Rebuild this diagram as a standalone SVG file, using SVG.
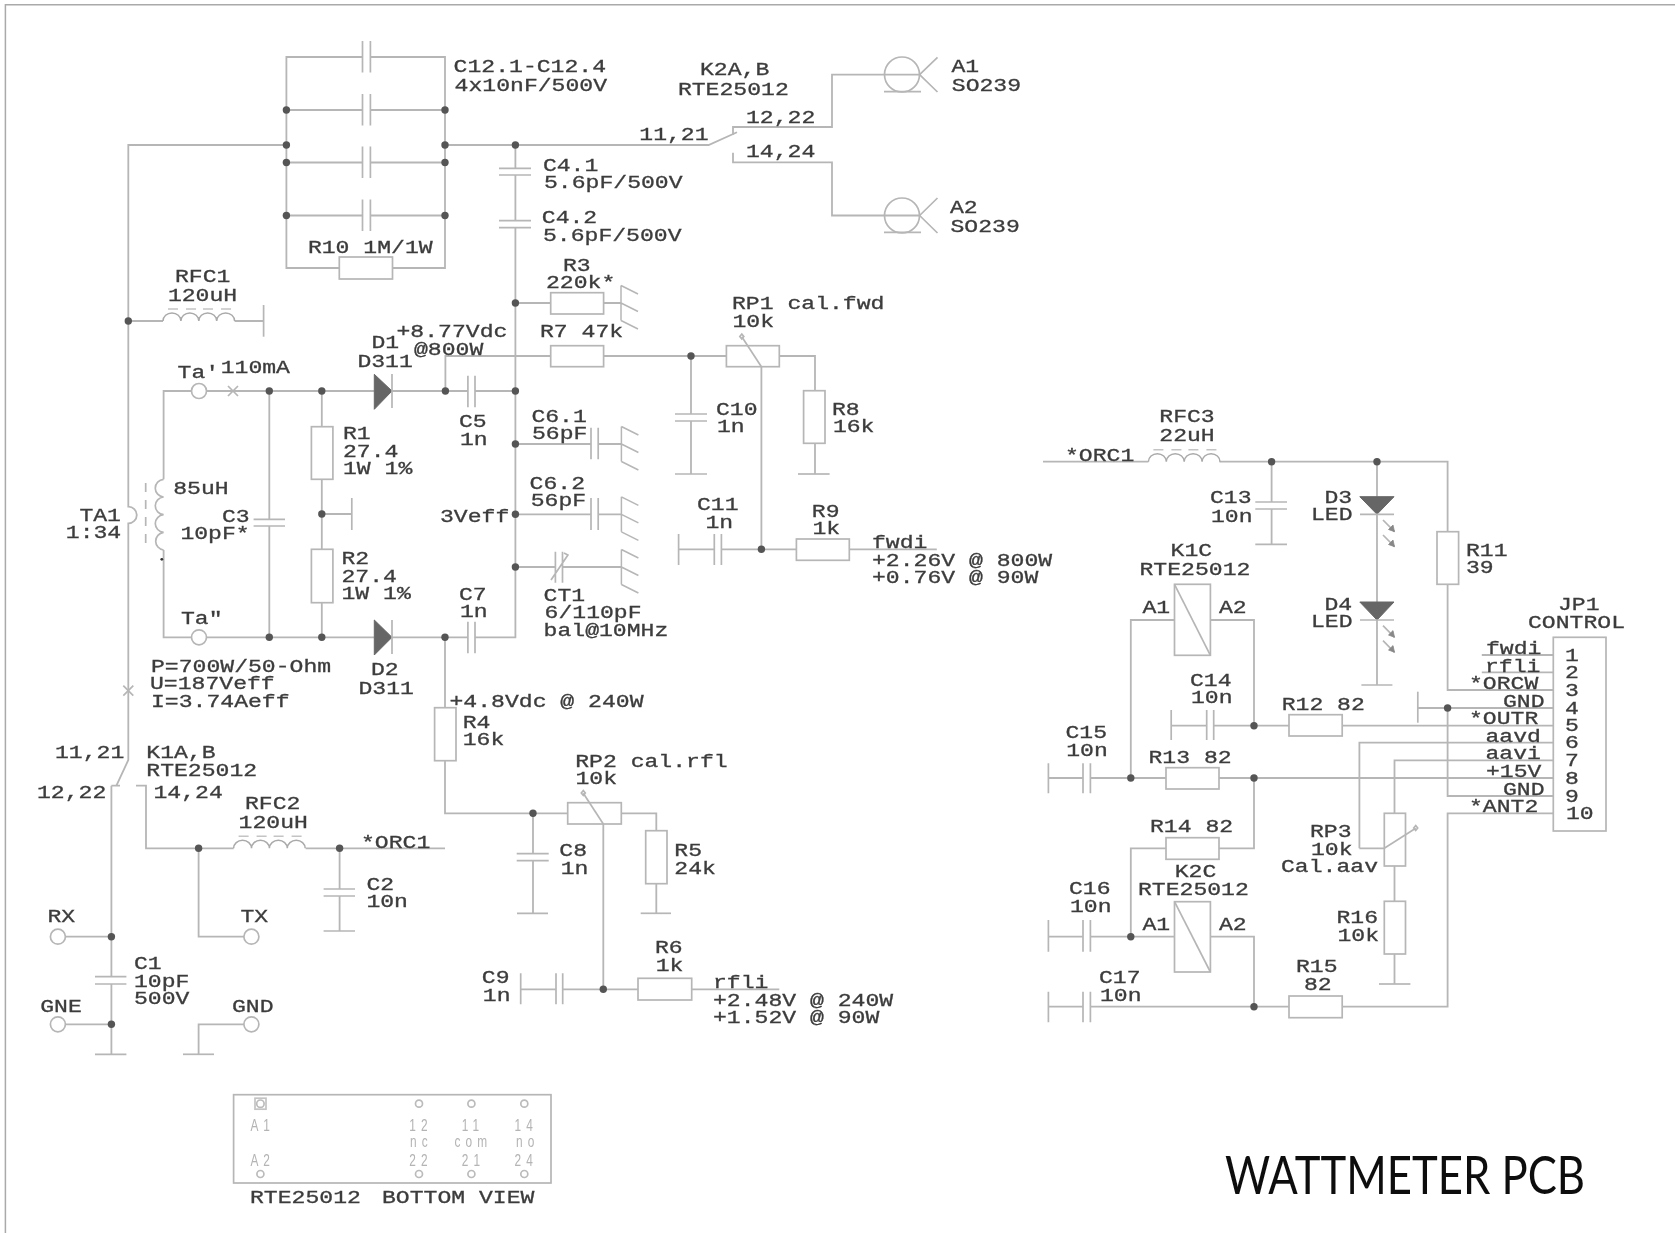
<svg xmlns="http://www.w3.org/2000/svg" xmlns:xlink="http://www.w3.org/1999/xlink" width="1675" height="1233" viewBox="0 0 1675 1233">
<style>
.t{font-family:"Liberation Mono","Courier New",monospace;font-size:17.5px;fill:#3c3c3c;stroke:#3c3c3c;stroke-width:.3;white-space:pre;transform-box:fill-box;transform-origin:0 50%;transform:scaleX(1.32)}
.w,.w *{fill:none;stroke:#b6b6b6;stroke-width:1.8}
.s path,.s rect,.s circle,.s line{fill:none;stroke:#b6b6b6;stroke-width:1.7}
.s .f{fill:#666;stroke:#666;stroke-width:1}
.s .h{fill:#888;stroke:#888;stroke-width:.8}
.s .k{fill:#333;stroke:none}
.s .d{stroke-dasharray:9 8}
.n{fill:#555}
.p{font-family:"Liberation Sans",Arial,sans-serif;font-size:16.5px;fill:#b4b4b4;letter-spacing:7px;transform-box:fill-box;transform-origin:0 50%;transform:scaleX(.72)}
</style>
<defs>
<filter id="soft" filterUnits="userSpaceOnUse" x="0" y="0" width="1675" height="1233"><feGaussianBlur stdDeviation="0.45"/></filter>
<g id="hatch"><path d="M0 -17.5V17.5M0 -17.5L17 -9M0 0L17 8.5M0 17.5L17 26" fill="none" stroke="#b6b6b6" stroke-width="1.5"/></g>
<path id="coil" d="M0 0a8.9 8 0 0 1 17.9 0a8.9 8 0 0 1 17.9 0a8.9 8 0 0 1 17.9 0a8.9 8 0 0 1 17.9 0" fill="none" stroke="#aaa" stroke-width="1.5"/>
<path id="dash" d="M5 -12h10M23 -12h10M40 -12h10M58 -12h10" fill="none" stroke="#c4c4c4" stroke-width="1.5"/>
</defs>
<rect width="1675" height="1233" fill="#fff"/>
<g filter="url(#soft)">
<path d="M5.4 1233V4.7H1675" fill="none" stroke="#aaa" stroke-width="1.5"/>
<g id="connectors" class="w">
<path d="M286.4 145H128.3V506.7a8.5 8.3 0 0 1 0 16.6V760L116.4 785.7M128.3 321H163M234.6 321H263.6"/>
<path d="M362.5 57H286.4V268H339.3M392.5 268H445V57H370.4M286.4 110H362.5M370.4 110H445M286.4 162.5H362.5M370.4 162.5H445M286.4 215.5H362.5M370.4 215.5H445"/>
<path d="M445 145H708.6L737 132.3M733 135V127H832V74.7H919.6M733 152.7V162.3H832V215.5H919.6"/>
<path d="M515.4 145V168.3M515.4 175V220.7M515.4 227.7V637.3H475M515.4 303H550.7M603.6 303H621"/>
<path d="M445.4 391V356H550.7M603.6 356H726.4M779.3 356H815V390.7M815 443.3V474M691 356V414M691 421V474M761.4 366.7V549.3M678.6 549.3H714.3M721.4 549.3H796.4M849.3 549.3H936.8"/>
<path d="M163.6 479.3V391H191.5M206.5 391H374M392 391H467.9M475 391H515.4M163.6 550V637.3H191.5M206.5 637.3H374M392 637.3H467.9"/>
<path d="M269.3 391V519.3M269.3 526V637.3M321.8 391V426.7M321.8 479.3V549.3M321.8 602.7V637.3M321.8 514H351.8"/>
<path d="M515.4 444H591M598.2 444H621.4M515.4 514.3H591M598.2 514.3H621.4M515.4 567H555.4M562.5 567H621.4"/>
<path d="M445 637.3V707.7M445 760.7V813.3H567.7M621.3 813.3H656.3V830.7M656.3 883.7V913.3M533 813.3V853.7M533 860.7V913.3M603.3 824V989.3M520.7 989.3H556M562.7 989.3H638M691.7 989.3H779.3"/>
<path d="M111.4 785.7V976.7M111.4 984V1054.3M111.4 785.7H120M136 785.7H146V848.3H233.6M305.7 848.3H445M198.6 848.3V936.7H244M339.6 848.3V889M339.6 896V931M65.4 936.7H111.4M65.4 1024.3H111.4M244 1024.3H198.6V1054.3"/>
<path d="M1043 461.7H1148.4M1219.4 461.7H1447.6V531.7M1447.6 584.3V690H1553.3M1271.6 461.7V502M1271.6 509V544.3M1377 461.7V496.7M1377 514.3V602M1377 620V685"/>
<path d="M1174.5 620H1130.8V778M1210.4 620H1254V725.7M1171.2 725.7H1206.7M1213.7 725.7H1289M1342.2 725.7H1553.3M1048.4 778H1083M1090.4 778H1166M1219 778H1553.3M1254 778V848.3H1219M1166 848.3H1130.8V936.7M1048.4 936.7H1083M1090.4 936.7H1174.5M1210.4 936.7H1254V1006.7M1048.4 1006.7H1083M1090.4 1006.7H1289M1342.2 1006.7H1447.6V813.3H1553.3"/>
<path d="M1481.8 655H1553.3M1481.8 672.3H1553.3M1417.8 708H1553.3M1447.6 708V796H1553.3M1359.4 848.3V742.7H1553.3M1359.4 848.3H1384.3M1394.5 813.3V760.3H1553.3M1394.5 866V901.3M1394.5 954V984"/>
</g>
<g id="junctions">
<circle class="n" r="3.7" cx="286.4" cy="110"/><circle class="n" r="3.7" cx="445" cy="110"/><circle class="n" r="3.7" cx="286.4" cy="145"/><circle class="n" r="3.7" cx="445" cy="145"/><circle class="n" r="3.7" cx="286.4" cy="162.5"/><circle class="n" r="3.7" cx="445" cy="162.5"/><circle class="n" r="3.7" cx="286.4" cy="215.5"/><circle class="n" r="3.7" cx="445" cy="215.5"/><circle class="n" r="3.7" cx="515.4" cy="145"/><circle class="n" r="3.7" cx="515.4" cy="303"/><circle class="n" r="3.7" cx="128.3" cy="321"/><circle class="n" r="3.7" cx="691" cy="356"/><circle class="n" r="3.7" cx="445.4" cy="391"/><circle class="n" r="3.7" cx="515.4" cy="391"/><circle class="n" r="3.7" cx="269.3" cy="391"/><circle class="n" r="3.7" cx="321.8" cy="391"/><circle class="n" r="3.7" cx="515.4" cy="444"/><circle class="n" r="3.7" cx="515.4" cy="514.3"/><circle class="n" r="3.7" cx="321.8" cy="514"/><circle class="n" r="3.7" cx="515.4" cy="567"/><circle class="n" r="3.7" cx="269.3" cy="637.3"/><circle class="n" r="3.7" cx="321.8" cy="637.3"/><circle class="n" r="3.7" cx="445" cy="637.3"/><circle class="n" r="3.7" cx="761.4" cy="549.3"/><circle class="n" r="3.7" cx="533" cy="813.3"/><circle class="n" r="3.7" cx="603.3" cy="989.3"/><circle class="n" r="3.7" cx="198.6" cy="848.3"/><circle class="n" r="3.7" cx="339.6" cy="848.3"/><circle class="n" r="3.7" cx="111.4" cy="936.7"/><circle class="n" r="3.7" cx="111.4" cy="1024.3"/><circle class="n" r="3.7" cx="1271.6" cy="461.7"/><circle class="n" r="3.7" cx="1377" cy="461.7"/><circle class="n" r="3.7" cx="1254" cy="725.7"/><circle class="n" r="3.7" cx="1130.8" cy="778"/><circle class="n" r="3.7" cx="1254" cy="778"/><circle class="n" r="3.7" cx="1130.8" cy="936.7"/><circle class="n" r="3.7" cx="1254" cy="1006.7"/><circle class="n" r="3.7" cx="1447.6" cy="708"/>
</g>
<g id="C12" class="s"><path d="M362.5 41V72.5M370.4 41V72.5M362.5 94V125.5M370.4 94V125.5M362.5 146.5V178M370.4 146.5V178M362.5 199.5V231M370.4 199.5V231"/><text class="t" x="453.6" y="72">C12.1-C12.4</text><text class="t" x="454.6" y="91.3">4x10nF/500V</text></g>
<g id="R10" class="s"><rect x="339.3" y="257" width="53.2" height="22"/><text class="t" x="307.9" y="253.3">R10 1M/1W</text></g>
<g id="RFC1" class="s"><use href="#coil" x="163" y="321"/><use href="#dash" x="163" y="321"/><path d="M263.6 305V336.7"/><text class="t" x="175" y="282">RFC1</text><text class="t" x="167.9" y="301">120uH</text></g>
<g id="K2" class="s"><text class="t" x="700" y="75.3">K2A,B</text><text class="t" x="677.9" y="94.7">RTE25012</text><text class="t" x="639.3" y="140">11,21</text><text class="t" x="746" y="122.7">12,22</text><text class="t" x="746" y="156.7">14,24</text></g>
<g id="A1" class="s"><circle cx="902" cy="74.5" r="17.5"/><path d="M884 91.7H921M919.6 74.7L937.5 57.3M919.6 74.7L937.5 92"/><text class="t" x="951.4" y="72">A1</text><text class="t" x="951.8" y="91.3">SO239</text></g>
<g id="A2" class="s"><circle cx="902" cy="215.5" r="17.5"/><path d="M884 232.3H921M919.6 215.5L937.5 198M919.6 215.5L937.5 233"/><text class="t" x="950" y="212.7">A2</text><text class="t" x="950.5" y="232">SO239</text></g>
<g id="C4" class="s"><path d="M499 168.3H531M499 175H531M499 220.7H531M499 227.7H531"/><text class="t" x="542.9" y="170.7">C4.1</text><text class="t" x="544" y="188.3">5.6pF/500V</text><text class="t" x="541.8" y="223.3">C4.2</text><text class="t" x="543" y="240.7">5.6pF/500V</text></g>
<g id="R3" class="s"><rect x="550.7" y="292.7" width="52.9" height="21.3"/><use href="#hatch" x="621" y="303"/><text class="t" x="563" y="270.7">R3</text><text class="t" x="546" y="288.3">220k*</text></g>
<g id="R7" class="s"><rect x="550.7" y="345.7" width="52.9" height="21"/><text class="t" x="540" y="337.3">R7 47k</text></g>
<g id="RP1" class="s"><rect x="726.4" y="345.7" width="52.9" height="21"/><path d="M741.8 336.7L761.4 366.7"/><path d="M741.8 334l2 2.5-2 2.5-2-2.5z"/><text class="t" x="732" y="309.3">RP1 cal.fwd</text><text class="t" x="732.5" y="327.3">10k</text></g>
<g id="R8" class="s"><rect x="803.6" y="390.7" width="21.4" height="52.6"/><path d="M798 474H829.6"/><text class="t" x="832" y="415">R8</text><text class="t" x="832.9" y="432.3">16k</text></g>
<g id="C10" class="s"><path d="M675 414H707M675 421H707M675 474H707"/><text class="t" x="716" y="415">C10</text><text class="t" x="717" y="432.3">1n</text></g>
<g id="C11" class="s"><path d="M678.6 534V565M714.3 534V565M721.4 534V565"/><text class="t" x="697" y="510">C11</text><text class="t" x="705.4" y="527.7">1n</text></g>
<g id="R9" class="s"><rect x="796.4" y="539" width="52.9" height="21.3"/><text class="t" x="811.8" y="516.7">R9</text><text class="t" x="812.5" y="534.3">1k</text><text class="t" x="872" y="548.3">fwdi</text><text class="t" x="872" y="565.7">+2.26V @ 800W</text><text class="t" x="872" y="583.3">+0.76V @ 90W</text></g>
<g id="Ta1" class="s"><circle cx="199" cy="391" r="7.5"/><path d="M228 386L238 396M238 386L228 396"/><text class="t" x="177.6" y="378.3">Ta'</text><text class="t" x="220.7" y="372.7">110mA</text></g>
<g id="Ta2" class="s"><circle cx="199" cy="637.3" r="7.5"/><text class="t" x="181" y="624">Ta"</text></g>
<g id="TA1" class="s"><path d="M163.6 479.3a9.3 8.9 0 0 0 0 17.7a9.3 8.9 0 0 0 0 17.7a9.3 8.9 0 0 0 0 17.7a9.3 8.9 0 0 0 0 17.6"/><path class="d" d="M145.7 483V549"/><circle class="k" cx="161.8" cy="559.3" r="1.4"/><path d="M123.3 685.7L133.3 695.7M133.3 685.7L123.3 695.7"/><text class="t" x="173.2" y="494">85uH</text><text class="t" x="79.4" y="520.7">TA1</text><text class="t" x="65.8" y="538.3">1:34</text></g>
<g id="C3" class="s"><path d="M253.6 519.3H285M253.6 526H285"/><text class="t" x="222" y="521.7">C3</text><text class="t" x="180.4" y="539.3">10pF*</text></g>
<g id="R1" class="s"><rect x="311.4" y="426.7" width="21.5" height="52.6"/><text class="t" x="343" y="439.3">R1</text><text class="t" x="343" y="456.7">27.4</text><text class="t" x="343" y="474.3">1W 1%</text></g>
<g id="R2" class="s"><rect x="311.4" y="549.3" width="21.5" height="53.4"/><path d="M351.8 498V530"/><text class="t" x="341.5" y="564.3">R2</text><text class="t" x="341.5" y="581.7">27.4</text><text class="t" x="341.5" y="599.3">1W 1%</text></g>
<g id="D1" class="s"><path class="f" d="M374.3 374.3L392 391L374.3 409.3Z"/><path d="M392 374V408"/><text class="t" x="371.5" y="348.3">D1</text><text class="t" x="357.4" y="367.3">D311</text><text class="t" x="396.5" y="337.3">+8.77Vdc</text><text class="t" x="414" y="355">@800W</text></g>
<g id="D2" class="s"><path class="f" d="M374.3 620L392 637.3L374.3 655Z"/><path d="M392 620V654"/><text class="t" x="371" y="675">D2</text><text class="t" x="358.5" y="694.3">D311</text></g>
<g id="C5" class="s"><path d="M467.9 375.7V407.3M475 375.7V407.3"/><text class="t" x="459" y="427.3">C5</text><text class="t" x="460" y="445">1n</text></g>
<g id="C7" class="s"><path d="M467.9 621.7V653.3M475 621.7V653.3"/><text class="t" x="459" y="600">C7</text><text class="t" x="460" y="617.3">1n</text></g>
<g id="C61" class="s"><path d="M591 427.7V459.3M598.2 427.7V459.3"/><use href="#hatch" x="621.4" y="444"/><text class="t" x="531.4" y="422">C6.1</text><text class="t" x="532" y="439.3">56pF</text></g>
<g id="C62" class="s"><path d="M591 498V530M598.2 498V530"/><use href="#hatch" x="621.4" y="514.3"/><text class="t" x="529.6" y="489">C6.2</text><text class="t" x="530.7" y="506">56pF</text><text class="t" x="440" y="521.7">3Veff</text></g>
<g id="CT1" class="s"><path d="M555.4 551.7V582.7M562.5 551.7V582.7M551 580L567.9 555L564 553"/><use href="#hatch" x="621.4" y="567"/><text class="t" x="543.6" y="601">CT1</text><text class="t" x="544.6" y="618.3">6/110pF</text><text class="t" x="543.6" y="636">bal@10MHz</text></g>
<g id="power" class="s"><text class="t" x="151" y="671.7">P=700W/50-Ohm</text><text class="t" x="150" y="689">U=187Veff</text><text class="t" x="151" y="706.7">I=3.74Aeff</text></g>
<g id="R4" class="s"><rect x="434.6" y="707.7" width="21.4" height="53"/><text class="t" x="449.5" y="706.7">+4.8Vdc @ 240W</text><text class="t" x="462.7" y="728.3">R4</text><text class="t" x="462.7" y="745">16k</text></g>
<g id="RP2" class="s"><rect x="567.7" y="802.7" width="53.6" height="21.3"/><path d="M583.3 793.3L603.3 824"/><path d="M583.3 790.5l2 2.5-2 2.5-2-2.5z"/><text class="t" x="575.2" y="766.7">RP2 cal.rfl</text><text class="t" x="575.5" y="784.3">10k</text></g>
<g id="R5" class="s"><rect x="645.7" y="830.7" width="21.3" height="53"/><path d="M640.7 913.3H671"/><text class="t" x="674.3" y="856">R5</text><text class="t" x="674.3" y="874">24k</text></g>
<g id="C8" class="s"><path d="M516.7 853.7H548.7M516.7 860.7H548.7M517 913.3H548"/><text class="t" x="559.3" y="856">C8</text><text class="t" x="560.7" y="874">1n</text></g>
<g id="C9" class="s"><path d="M520.7 973.3V1004.3M556 973.3V1004.3M562.7 973.3V1004.3"/><text class="t" x="481.8" y="983.3">C9</text><text class="t" x="482.8" y="1001">1n</text></g>
<g id="R6" class="s"><rect x="638" y="978.3" width="53.7" height="21.7"/><text class="t" x="655" y="952.7">R6</text><text class="t" x="655.7" y="970.7">1k</text><text class="t" x="713" y="988.3">rfli</text><text class="t" x="713" y="1005.7">+2.48V @ 240W</text><text class="t" x="713" y="1023.3">+1.52V @ 90W</text></g>
<g id="K1AB" class="s"><text class="t" x="55" y="757.7">11,21</text><text class="t" x="146.3" y="757.7">K1A,B</text><text class="t" x="146.3" y="775.7">RTE25012</text><text class="t" x="37" y="798.3">12,22</text><text class="t" x="153.5" y="798.3">14,24</text></g>
<g id="RFC2" class="s"><use href="#coil" x="233.6" y="848.3"/><use href="#dash" x="233.6" y="848.3"/><text class="t" x="245" y="808.7">RFC2</text><text class="t" x="238.6" y="828">120uH</text><text class="t" x="361" y="847.7">*ORC1</text></g>
<g id="C2" class="s"><path d="M323.6 889H355M323.6 896H355M323.6 931H355"/><text class="t" x="366.4" y="890">C2</text><text class="t" x="366.4" y="907.3">10n</text></g>
<g id="RX" class="s"><circle cx="57.9" cy="936.7" r="7.5"/><text class="t" x="47.4" y="921.7">RX</text></g>
<g id="TX" class="s"><circle cx="251.4" cy="936.7" r="7.5"/><text class="t" x="240.4" y="921.7">TX</text></g>
<g id="GNE" class="s"><circle cx="57.9" cy="1024.3" r="7.5"/><text class="t" x="40.2" y="1011.7">GNE</text></g>
<g id="GND" class="s"><circle cx="251.4" cy="1024.3" r="7.5"/><path d="M183 1054.3H214"/><text class="t" x="232" y="1011.7">GND</text></g>
<g id="C1" class="s"><path d="M95 976.7H126.4M95 984H126.4M95 1054.3H126.4"/><text class="t" x="134" y="969.3">C1</text><text class="t" x="134" y="986.7">10pF</text><text class="t" x="134" y="1004.3">500V</text></g>
<g id="relay" class="s">
<rect x="233.6" y="1094.7" width="317.4" height="88.3"/>
<rect x="255" y="1098.2" width="11" height="11" style="stroke:#c4c4c4"/>
<circle cx="260.4" cy="1103.7" r="3.7" style="stroke:#bbb"/><circle cx="419" cy="1103.7" r="3.5" style="stroke:#bbb"/><circle cx="471.4" cy="1103.7" r="3.5" style="stroke:#bbb"/><circle cx="524.3" cy="1103.7" r="3.5" style="stroke:#bbb"/>
<circle cx="260.4" cy="1174" r="3.5" style="stroke:#bbb"/><circle cx="419" cy="1174" r="3.5" style="stroke:#bbb"/><circle cx="471.4" cy="1174" r="3.5" style="stroke:#bbb"/><circle cx="524.3" cy="1174" r="3.5" style="stroke:#bbb"/>
<text class="p" x="250.4" y="1130.7">A1</text><text class="p" x="250.4" y="1166">A2</text>
<text class="p" x="409.3" y="1130.7">12</text><text class="p" x="461.8" y="1130.7">11</text><text class="p" x="514.6" y="1130.7">14</text>
<text class="p" x="410" y="1146.7">nc</text><text class="p" x="454.6" y="1146.7">com</text><text class="p" x="516" y="1146.7">no</text>
<text class="p" x="409.3" y="1166">22</text><text class="p" x="461.8" y="1166">21</text><text class="p" x="514.6" y="1166">24</text>
<text class="t" x="250" y="1202.7">RTE25012  <tspan dx="-5">BOTTOM</tspan> VIEW</text>
</g>
<g id="RFC3" class="s"><use href="#coil" x="1148.4" y="461.7"/><use href="#dash" x="1148.4" y="461.7"/><text class="t" x="1159.3" y="421.7">RFC3</text><text class="t" x="1159.3" y="441">22uH</text><text class="t" x="1065" y="460.7">*ORC1</text></g>
<g id="C13" class="s"><path d="M1255.3 502H1287M1255.3 509H1287M1255.3 544.3H1287"/><text class="t" x="1210" y="502.7">C13</text><text class="t" x="1211" y="521.7">10n</text></g>
<g id="D3" class="s"><path class="f" d="M1359.8 496.7H1394L1377 514.3Z"/><path d="M1360 514.3H1394M1383 520L1394.5 531.7M1383 535L1394.5 546.7"/><path class="h" d="M1394.5 531.7L1393 525L1388.5 529.5ZM1394.5 546.7L1393 540L1388.5 544.5Z"/><text class="t" x="1324.5" y="502.7">D3</text><text class="t" x="1311" y="520.3">LED</text></g>
<g id="D4" class="s"><path class="f" d="M1359.8 602H1394L1377 620Z"/><path d="M1360 620H1394M1383 625.7L1394.5 637.3M1383 640.7L1394.5 652.3M1361.4 685H1392.4"/><path class="h" d="M1394.5 637.3L1393 630.6L1388.5 635ZM1394.5 652.3L1393 645.6L1388.5 650Z"/><text class="t" x="1324.5" y="610">D4</text><text class="t" x="1311" y="627.3">LED</text></g>
<g id="R11" class="s"><rect x="1437" y="531.7" width="21.6" height="52.6"/><text class="t" x="1466" y="555.7">R11</text><text class="t" x="1466" y="573.3">39</text></g>
<g id="K1C" class="s"><rect x="1174.5" y="584.3" width="35.9" height="71"/><path d="M1174.5 584.3L1210.4 655.3"/><text class="t" x="1170.6" y="555.7">K1C</text><text class="t" x="1139.5" y="575">RTE25012</text><text class="t" x="1142.5" y="613.3">A1</text><text class="t" x="1219" y="613.3">A2</text></g>
<g id="C14" class="s"><path d="M1171.2 710V740M1206.7 710V740M1213.7 710V740"/><text class="t" x="1190" y="685.7">C14</text><text class="t" x="1191" y="703.3">10n</text></g>
<g id="R12" class="s"><rect x="1289" y="714.7" width="53.2" height="21.3"/><text class="t" x="1281.7" y="710">R12 82</text></g>
<g id="C15" class="s"><path d="M1048.4 763.3V793.3M1083 763.3V793.3M1090.4 763.3V793.3"/><text class="t" x="1065.5" y="738.3">C15</text><text class="t" x="1066.2" y="756">10n</text></g>
<g id="R13" class="s"><rect x="1166" y="767.7" width="53" height="21.3"/><text class="t" x="1148.5" y="763.3">R13 82</text></g>
<g id="R14" class="s"><rect x="1166" y="837.7" width="53" height="21.6"/><text class="t" x="1150" y="831.7">R14 82</text></g>
<g id="K2C" class="s"><rect x="1174.5" y="901.7" width="35.9" height="70.3"/><path d="M1174.5 901.7L1210.4 972"/><text class="t" x="1174.7" y="877.3">K2C</text><text class="t" x="1138" y="895">RTE25012</text><text class="t" x="1142.5" y="930">A1</text><text class="t" x="1219" y="930">A2</text></g>
<g id="C16" class="s"><path d="M1048.4 920V951.7M1083 920V951.7M1090.4 920V951.7"/><text class="t" x="1069" y="894.3">C16</text><text class="t" x="1070" y="912.3">10n</text></g>
<g id="C17" class="s"><path d="M1048.4 991.7V1022.3M1083 991.7V1022.3M1090.4 991.7V1022.3"/><text class="t" x="1099" y="982.7">C17</text><text class="t" x="1100" y="1000.7">10n</text></g>
<g id="R15" class="s"><rect x="1289" y="996" width="53.2" height="21.7"/><text class="t" x="1296" y="972.3">R15</text><text class="t" x="1304" y="990">82</text></g>
<g id="RP3" class="s"><rect x="1384.3" y="813.3" width="21.2" height="52.7"/><path d="M1384.3 848.3L1415.7 828.3"/><path d="M1415.7 825.5l2 2.5-2 2.5-2-2.5z"/><text class="t" x="1310" y="837.3">RP3</text><text class="t" x="1311" y="854.7">10k</text><text class="t" x="1281" y="872.3">Cal.aav</text></g>
<g id="R16" class="s"><rect x="1384.3" y="901.3" width="21.2" height="52.7"/><path d="M1379 984H1410.4"/><text class="t" x="1336.5" y="923.3">R16</text><text class="t" x="1337.5" y="940.7">10k</text></g>
<g id="JP1" class="s"><rect x="1553.3" y="637.3" width="52.7" height="193.7"/><path d="M1417.8 691.7V722.7"/>
<text class="t" x="1558" y="610">JP1</text><text class="t" x="1528" y="627.7">CONTROL</text>
<text class="t" x="1486" y="654">fwdi</text><text class="t" x="1485" y="671.7">rfli</text><text class="t" x="1469" y="688.7">*ORCW</text><text class="t" x="1503" y="706.7">GND</text><text class="t" x="1469" y="724.3">*OUTR</text><text class="t" x="1485.5" y="742">aavd</text><text class="t" x="1485.5" y="759.3">aavi</text><text class="t" x="1486" y="777.3">+15V</text><text class="t" x="1503" y="795">GND</text><text class="t" x="1469" y="811.7">*ANT2</text>
<text class="t" x="1565" y="660.7">1</text><text class="t" x="1565" y="678.3">2</text><text class="t" x="1565" y="696">3</text><text class="t" x="1565" y="714">4</text><text class="t" x="1565" y="731">5</text><text class="t" x="1565" y="748.3">6</text><text class="t" x="1565" y="766">7</text><text class="t" x="1565" y="784">8</text><text class="t" x="1565" y="801.7">9</text><text class="t" x="1566" y="819.3">10</text></g>
<g id="title"><text x="1225" y="1193.5" font-family="Lato,'Liberation Sans',Arial,sans-serif" font-size="52" fill="#111" textLength="360" lengthAdjust="spacingAndGlyphs">WATTMETER PCB</text></g>
</g>
</svg>
